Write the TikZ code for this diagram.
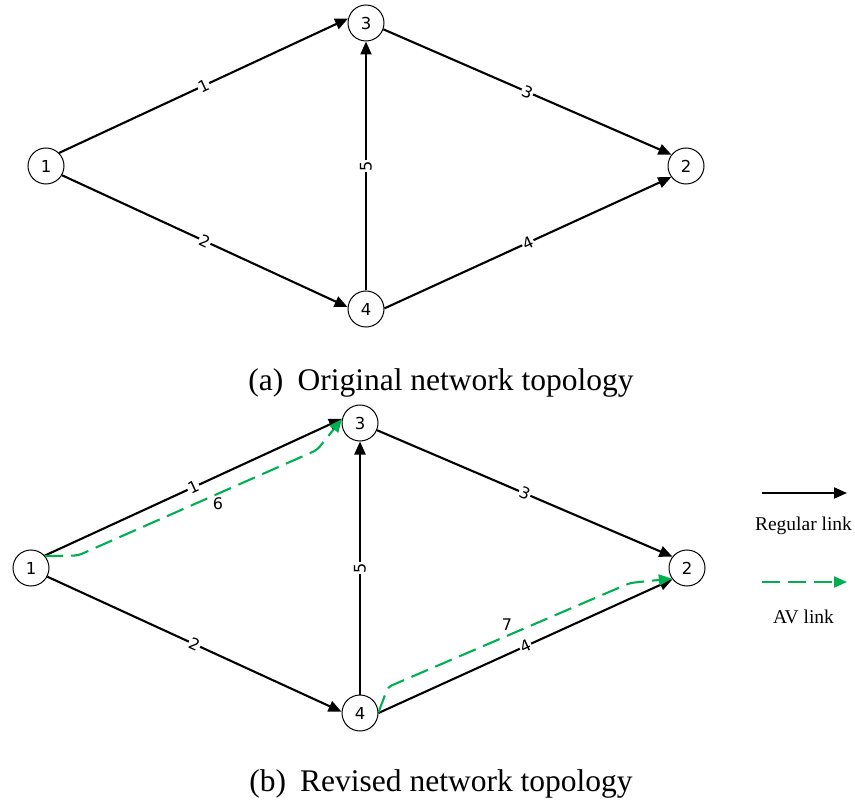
\documentclass[tikz,border=0pt]{standalone}
\usepackage{fontspec}
\setmainfont{Liberation Serif}
\newfontfamily\labelfont{DejaVu Sans}
\usetikzlibrary{arrows.meta}
\definecolor{avgreen}{RGB}{0,176,80}
\tikzset{
  netnode/.style={circle, draw, line width=1pt, minimum size=36pt, inner sep=0pt,
    fill=white, font=\labelfont\fontsize{16.5}{16.5}\selectfont},
  reglink/.style={line width=2.1pt, -{Triangle[length=13pt,width=11pt]}},
  avlink/.style={line width=2.1pt, avgreen, dash pattern=on 18pt off 8pt,
    rounded corners=4pt, -{Triangle[length=13pt,width=11pt]}},
  linklabel/.style={midway, sloped, fill=white, inner sep=1pt,
    font=\labelfont\fontsize{16}{16}\selectfont},
  freelabel/.style={inner sep=0pt, font=\labelfont\fontsize{16}{16}\selectfont},
  caption/.style={anchor=base, inner sep=0pt, font=\fontsize{31.5}{31.5}\selectfont},
  legendtext/.style={anchor=base, inner sep=0pt, font=\fontsize{19.5}{19.5}\selectfont}
}
\begin{document}
\begin{tikzpicture}[x=1pt, y=-1pt]
\useasboundingbox (0,0) rectangle (855,805);

% ---- (a) original network ----
\node[netnode] (a1) at (46,166) {1};
\node[netnode] (a3) at (366,23) {3};
\node[netnode] (a4) at (366,309) {4};
\node[netnode] (a2) at (686,166) {2};

\draw[reglink] (a1.45) -- node[linklabel] {1} (a3.166);
\draw[reglink] (a1.-30) -- node[linklabel] {2} (a4.174);
\draw[reglink] (a3.-20) -- node[linklabel] {3} (a2.142);
\draw[reglink] (a4.2) -- node[linklabel] {4} (a2.217);
\draw[reglink] (a4.90) -- node[linklabel] {5} (a3.-90);

\node[caption] (capa) at (441,390) {(a)\hspace{0.45em}Original network topology};

% ---- (b) revised network ----
\node[netnode] (b1) at (31,568) {1};
\node[netnode] (b3) at (360,423) {3};
\node[netnode] (b4) at (360,713) {4};
\node[netnode] (b2) at (687,568) {2};

\draw[reglink] (b1.42) -- node[linklabel] {1} (b3.167);
\draw[reglink] (b1.-28) -- node[linklabel] {2} (b4.176);
\draw[reglink] (b3.-23) -- node[linklabel] {3} (b2.142);
\draw[reglink] (b4.0) -- node[linklabel] {4} (b2.218);
\draw[reglink] (b4.90) -- node[linklabel] {5} (b3.-90);

% AV links
\coordinate (v6a) at (78,555.5);
\coordinate (v6b) at (317,450);
\coordinate (v7a) at (388,687);
\coordinate (v7b) at (630,583);
\draw[avlink] (b1.40) -- (v6a) -- (v6b) -- (b3.168);
\draw[avlink] (b4.2) -- (v7a) -- (v7b) -- (b2.215);
\node[freelabel] (l6) at (218,504) {6};
\node[freelabel] (l7) at (507,625) {7};

% legend
\coordinate (lr1) at (762,493);
\coordinate (lr2) at (847,493);
\coordinate (la1) at (762,582);
\coordinate (la2) at (847,582);
\draw[reglink] (lr1) -- (lr2);
\draw[avlink] (la1) -- (la2);
\node[legendtext] (treg) at (803.5,530) {Regular link};
\node[legendtext] (tav) at (803.5,623) {AV link};

\node[caption] (capb) at (441,791) {(b)\hspace{0.45em}Revised network topology};
\end{tikzpicture}
\end{document}
